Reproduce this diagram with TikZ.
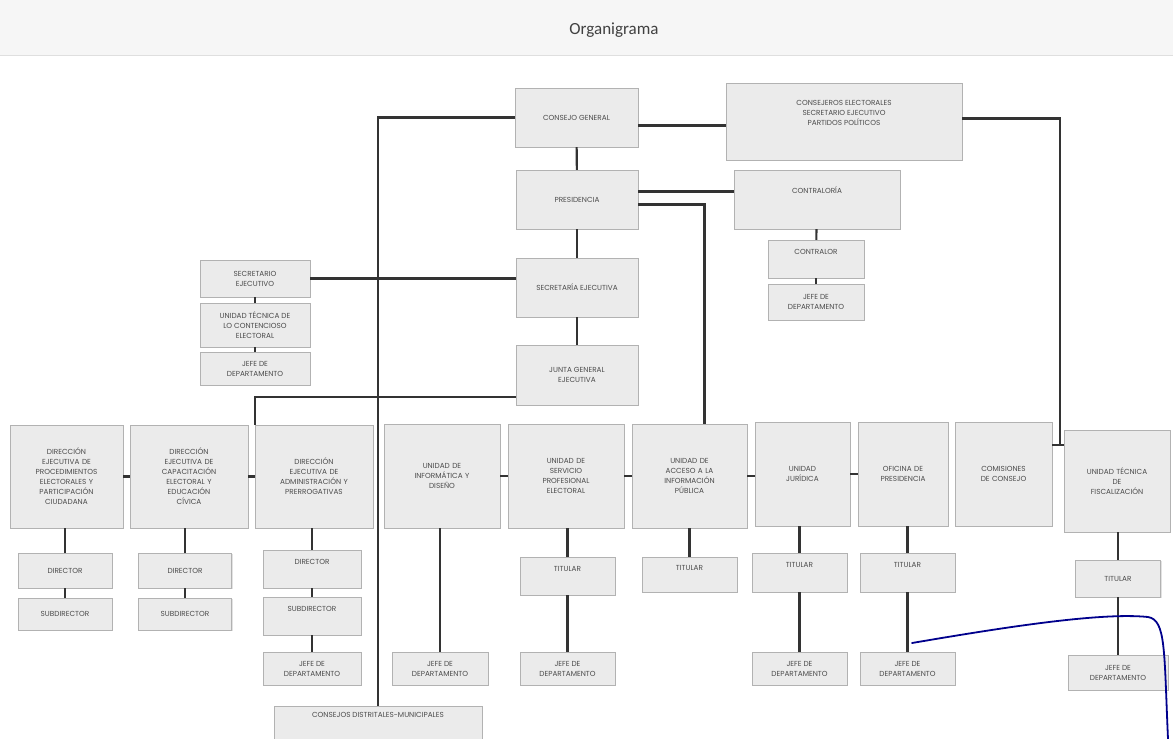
\documentclass[tikz,border=0pt]{standalone}
\usepackage{fontspec}
\setmainfont{Poppins}
\newfontfamily\titlefont{Carlito}
\usepackage{tikz}
\usetikzlibrary{shadows}

\begin{document}
\begin{tikzpicture}[x=1pt,y=-1pt,
		box/.style={draw=gray!60,fill=gray!16,align=center,inner sep=1pt,
			font=\fontsize{7.3}{10}\selectfont,text=black!70,
			drop shadow={shadow xshift=1pt,shadow yshift=-1.2pt,fill=gray!45}},
		link/.style={line width=2.1pt,draw=black!80}]
		\useasboundingbox (0,0) rectangle (1173,739);
		\fill[gray!7] (0,0) rectangle (1173,55);
		\draw[gray!25] (0,55)--(1173,55);
		\node (title) at (614,30) {\titlefont\fontsize{17}{20}\selectfont\color{black!75}Organigrama};
		% cupula
		\node[box,minimum width=123,minimum height=59] (cg) at (576.5,117.5) {CONSEJO GENERAL};
		\node[box,minimum width=236,minimum height=77] (cons) at (844,121.5) {CONSEJEROS ELECTORALES\\SECRETARIO EJECUTIVO\\PARTIDOS POLÍTICOS\\[8pt]};
		\node[box,minimum width=122,minimum height=59] (pres) at (577,199.5) {PRESIDENCIA};
		\node[box,minimum width=166,minimum height=59] (contral) at (817,199.5) {CONTRALORÍA\\[8pt]};
		\node[box,minimum width=96,minimum height=38] (contralor) at (816,259) {CONTRALOR\\[4pt]};
		\node[box,minimum width=96,minimum height=36] (jcontral) at (816,302) {JEFE DE\\DEPARTAMENTO};
		\node[box,minimum width=122,minimum height=59] (secej) at (577,287.5) {SECRETARÍA EJECUTIVA};
		\node[box,minimum width=122,minimum height=60] (junta) at (577,375) {JUNTA GENERAL\\EJECUTIVA};
		\node[box,minimum width=110,minimum height=37] (secr) at (255,278.5) {SECRETARIO\\EJECUTIVO};
		\node[box,minimum width=110,minimum height=44] (utce) at (255,325) {UNIDAD TÉCNICA DE\\LO CONTENCIOSO\\ELECTORAL};
		\node[box,minimum width=110,minimum height=33] (jsecr) at (255,368.5) {JEFE DE\\DEPARTAMENTO};
		% fila de direcciones y unidades
		\node[box,minimum width=113,minimum height=103,text width=106] (d1) at (66.5,476.5) {DIRECCIÓN\\EJECUTIVA DE\\PROCEDIMIENTOS\\ELECTORALES Y\\PARTICIPACIÓN\\CIUDADANA\\[12pt]};
		\node[box,minimum width=118,minimum height=103,text width=106] (d2) at (189,476.5) {DIRECCIÓN\\EJECUTIVA DE\\CAPACITACIÓN\\ELECTORAL Y\\EDUCACIÓN\\CÍVICA\\[12pt]};
		\node[box,minimum width=118,minimum height=103,text width=110] (d3) at (314,476.5) {DIRECCIÓN\\EJECUTIVA DE\\ADMINISTRACIÓN Y\\PRERROGATIVAS\\[12pt]};
		\node[box,minimum width=116,minimum height=104,text width=106] (u4) at (442,476) {UNIDAD DE\\INFORMÁTICA Y\\DISEÑO\\[30pt]};
		\node[box,minimum width=116,minimum height=104,text width=106] (u5) at (566,476) {UNIDAD DE\\SERVICIO\\PROFESIONAL\\ELECTORAL\\[18pt]};
		\node[box,minimum width=115,minimum height=104,text width=106] (u6) at (689.5,476) {UNIDAD DE\\ACCESO A LA\\INFORMACIÓN\\PÚBLICA\\[18pt]};
		\node[box,minimum width=95,minimum height=104,text width=88] (u7) at (802.5,474) {UNIDAD\\JURÍDICA\\[46pt]};
		\node[box,minimum width=90,minimum height=104,text width=86] (u8) at (903,474) {OFICINA DE\\PRESIDENCIA\\[46pt]};
		\node[box,minimum width=97,minimum height=104,text width=88] (u9) at (1003.5,474) {COMISIONES\\DE CONSEJO\\[46pt]};
		\node[box,minimum width=106,minimum height=102,text width=102] (u10) at (1117,481) {UNIDAD TÉCNICA\\DE\\FISCALIZACIÓN\\[26pt]};
		% puestos
		\node[box,minimum width=94,minimum height=35] (d1dir) at (65,570.5) {DIRECTOR};
		\node[box,minimum width=94,minimum height=32] (d1sub) at (65,614) {SUBDIRECTOR};
		\node[box,minimum width=93,minimum height=35] (d2dir) at (185,570.5) {DIRECTOR};
		\node[box,minimum width=93,minimum height=32] (d2sub) at (185,614) {SUBDIRECTOR};
		\node[box,minimum width=98,minimum height=38] (d3dir) at (312,569) {DIRECTOR\\[4pt]};
		\node[box,minimum width=98,minimum height=38] (d3sub) at (312,616) {SUBDIRECTOR\\[4pt]};
		\node[box,minimum width=98,minimum height=33] (d3jefe) at (312,668.5) {JEFE DE\\DEPARTAMENTO};
		\node[box,minimum width=96,minimum height=33] (u4jefe) at (440,668.5) {JEFE DE\\DEPARTAMENTO};
		\node[box,minimum width=95,minimum height=38] (u5tit) at (567.5,576) {TITULAR\\[4pt]};
		\node[box,minimum width=95,minimum height=33] (u5jefe) at (567.5,668.5) {JEFE DE\\DEPARTAMENTO};
		\node[box,minimum width=95,minimum height=35] (u6tit) at (689.5,574.5) {TITULAR\\[4pt]};
		\node[box,minimum width=95,minimum height=39] (u7tit) at (799.5,572.5) {TITULAR\\[6pt]};
		\node[box,minimum width=95,minimum height=33] (u7jefe) at (799.5,668.5) {JEFE DE\\DEPARTAMENTO};
		\node[box,minimum width=95,minimum height=39] (u8tit) at (907.5,572.5) {TITULAR\\[6pt]};
		\node[box,minimum width=95,minimum height=33] (u8jefe) at (907.5,668.5) {JEFE DE\\DEPARTAMENTO};
		\node[box,minimum width=85,minimum height=37] (u10tit) at (1118,578.5) {TITULAR};
		\node[box,minimum width=100,minimum height=35] (u10jefe) at (1118,672.5) {JEFE DE\\DEPARTAMENTO};
		\node[box,minimum width=208,minimum height=40] (cdm) at (378,726) {CONSEJOS DISTRITALES-MUNICIPALES\\[12pt]};
		% lineas
		\coordinate (fisc) at (1060,445);
		\draw[link] (cg) -- (pres);
		\draw[link] (pres) -- (secej);
		\draw[link] (secej) -- (junta);
		\draw[link] ([yshift=-8pt]cg.east) -- ([yshift=-8pt]cg.east -| cons.west);
		\draw[link] (cg.west) -| (cdm.north);
		\draw[link] ([yshift=8pt]pres.east) -- ([yshift=8pt]contral.west);
		\draw[link] ([yshift=-5pt]pres.east) -| ([xshift=15pt]u6.north);
		\draw[link] (contral) -- (contralor);
		\draw[link] (contralor) -- (jcontral);
		\draw[link] (secr.east) -- (secej.west |- secr.east);
		\draw[link] (secr) -- (utce);
		\draw[link] (utce) -- (jsecr);
		\draw[link] ([yshift=-22pt]junta.west) -| (d3.north west);
		\draw[link] ([yshift=3pt]cons.east) -| (fisc);
		\draw[link] (u9.east |- fisc) -- (u10.west |- fisc);
		\foreach \a/\b in {d1/d2,d2/d3,u4/u5,u5/u6,u6/u7,u7/u8}
			\draw[link] (\a.east) -- (\a.east -| \b.west);
		\foreach \a/\b in {d1/d1dir,d1dir/d1sub,d2/d2dir,d2dir/d2sub,d3/d3dir,d3dir/d3sub,d3sub/d3jefe,
			u4/u4jefe,u5/u5tit,u5tit/u5jefe,u6/u6tit,u7/u7tit,u7tit/u7jefe,u8/u8tit,u8tit/u8jefe,u10/u10tit,u10tit/u10jefe}
			\draw[link] (\b.north |- \a.south) -- (\b.north);
		% trazo a mano
		\draw[blue!55!black,line width=1.8pt,line cap=round] (912,643) .. controls (1000,628) and (1100,612) .. (1148,617) .. controls (1166,620) and (1164,650) .. (1168,739);
	\end{tikzpicture}
\end{document}
